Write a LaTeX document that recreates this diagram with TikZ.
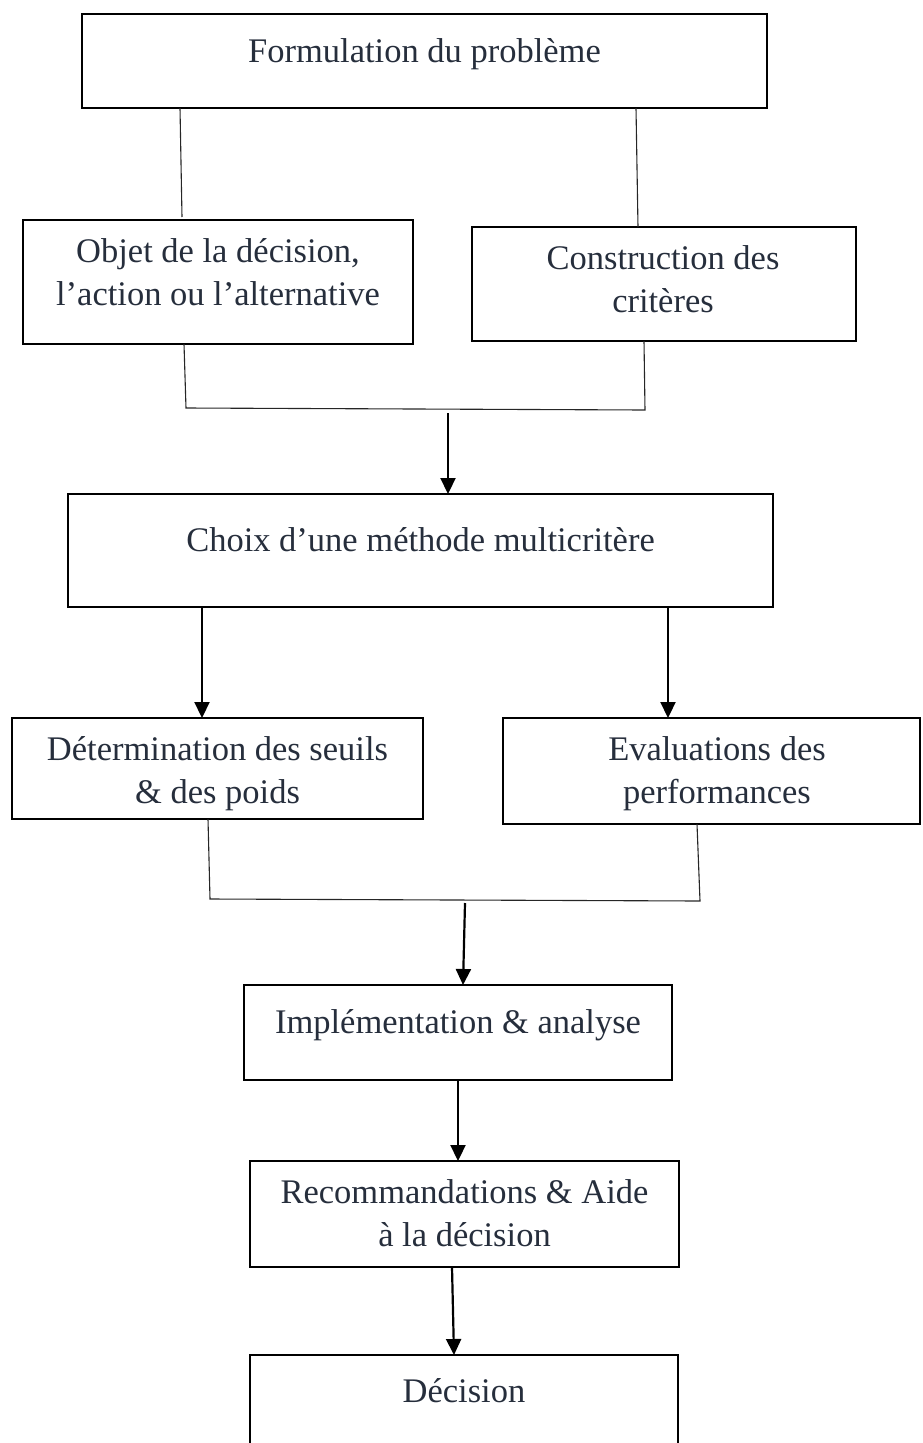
\documentclass[tikz,border=0pt]{standalone}
\usepackage{fontspec}
\setmainfont{Liberation Serif}
\usetikzlibrary{arrows.meta}
\definecolor{inkText}{RGB}{38,46,60}
\begin{document}
\begin{tikzpicture}[x=1pt, y=-1pt,
  box/.style={draw=black, line width=2.8pt, inner sep=0pt, outer sep=0pt, anchor=north west},
  txt/.style={text=inkText, font=\fontsize{34.5}{43}\selectfont, inner sep=0pt, align=center, anchor=base},
  link/.style={line width=1.1pt, draw=black!85},
  arr/.style={line width=2.2pt, draw=black, -{Triangle[length=16pt, width=15pt]}}]
\useasboundingbox (0,0) rectangle (922,1443);
\clip (0,0) rectangle (922,1443);

% boxes
\node[box, minimum width=685pt, minimum height=94pt]  (b1) at (82,14)   {};
\node[box, minimum width=390pt, minimum height=124pt] (b2) at (23,220)  {};
\node[box, minimum width=384pt, minimum height=114pt] (b3) at (472,227) {};
\node[box, minimum width=705pt, minimum height=113pt] (b4) at (68,494)  {};
\node[box, minimum width=411pt, minimum height=101pt] (b5) at (12,718)  {};
\node[box, minimum width=417pt, minimum height=106pt] (b6) at (503,718) {};
\node[box, minimum width=428pt, minimum height=95pt]  (b7) at (244,985) {};
\node[box, minimum width=429pt, minimum height=106pt] (b8) at (250,1161){};
\node[box, minimum width=428pt, minimum height=160pt] (b9) at (250,1355){};

% labels (anchored on the baseline of their last line)
\node[txt] (t1) at (424.5,62)  {Formulation du problème};
\node[txt] (t2) at (218,305)   {Objet de la décision,\\l’action ou l’alternative};
\node[txt] (t3) at (663,312)   {Construction des\\critères};
\node[txt] (t4) at (420.5,551) {Choix d’une méthode multicritère};
\node[txt] (t5) at (217.5,803) {Détermination des seuils\\\& des poids};
\node[txt] (t6) at (717,803)   {Evaluations des\\performances};
\node[txt] (t7) at (458,1033)  {Implémentation \& analyse};
\node[txt] (t8) at (464.5,1246){Recommandations \& Aide\\à la décision};
\node[txt] (t9) at (464,1402)  {Décision};

% junction points of the brackets
\coordinate (m1) at (186,408);
\coordinate (m2) at (645,410);
\coordinate (m3) at (448,413);
\coordinate (m4) at (210,899);
\coordinate (m5) at (700,901);
\coordinate (m6) at (465,903);

% thin links from the problem statement
\draw[link] ([xshift=98pt]b1.south west) -- ([xshift=159pt,yshift=3pt]b2.north west);
\draw[link] ([xshift=554pt]b1.south west) -- ([xshift=166pt]b3.north west);

% first bracket and arrow to the method choice
\draw[link] ([xshift=161pt]b2.south west) -- (m1) -- (m2) -- ([xshift=172pt]b3.south west);
\draw[arr] (m3) -- ([xshift=380pt]b4.north west);

% method choice to thresholds and evaluations
\draw[arr] ([xshift=134pt]b4.south west) -- ([xshift=190pt]b5.north west);
\draw[arr] ([xshift=600pt]b4.south west) -- ([xshift=165pt]b6.north west);

% second bracket and arrow to implementation
\draw[link] ([xshift=196pt]b5.south west) -- (m4) -- (m5) -- ([xshift=194pt]b6.south west);
\draw[arr] (m6) -- ([xshift=219pt]b7.north west);

% final chain
\draw[arr] ([xshift=214pt]b7.south west) -- ([xshift=208pt]b8.north west);
\draw[arr] ([xshift=202pt]b8.south west) -- ([xshift=204pt]b9.north west);
\end{tikzpicture}
\end{document}
